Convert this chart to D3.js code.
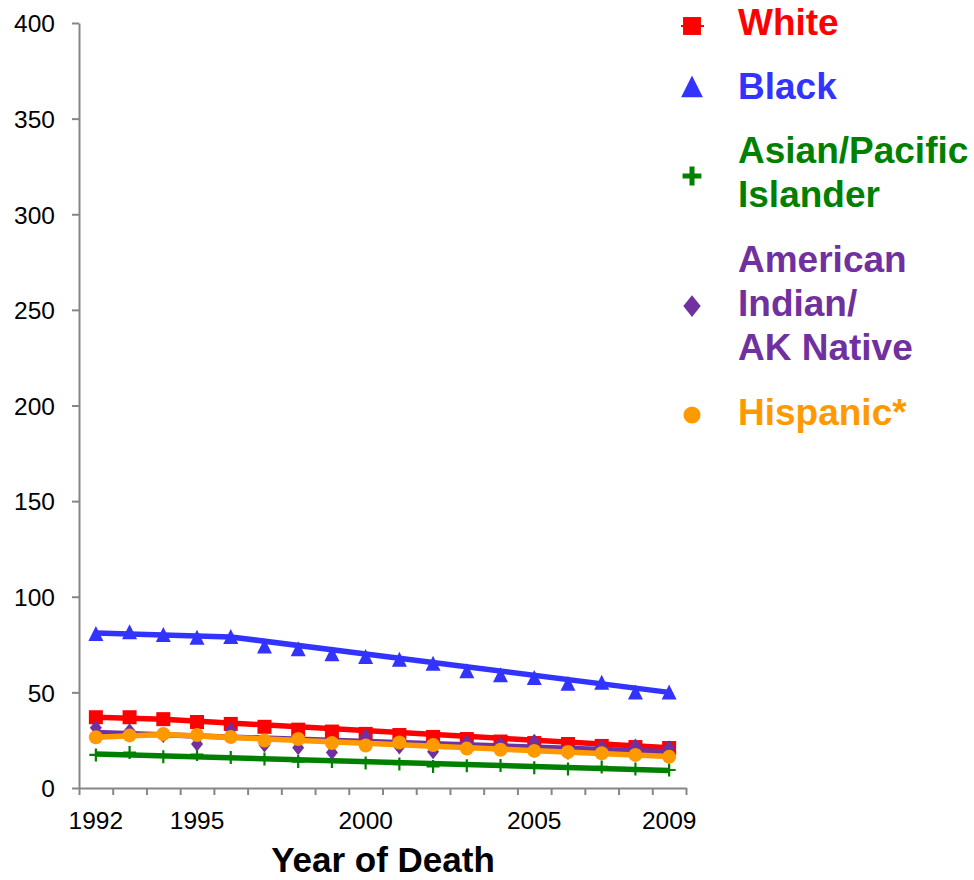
<!DOCTYPE html>
<html>
<head>
<meta charset="utf-8">
<script src="https://cdn.jsdelivr.net/npm/d3@7"></script>
<style>
  body { margin: 0; background: #fff; }
  svg { font-family: "Liberation Sans", Arial, sans-serif; }
  .axis path, .axis line { stroke: #868686; stroke-width: 2; }
  .axis text { fill: #000; font-size: 24.5px; }
  .legend-label { font-weight: bold; font-size: 37px; }
</style>
</head>
<body>
<svg id="chart" width="974" height="880" viewBox="0 0 974 880"></svg>
<script>
// Years on the x axis
const years = d3.range(1992, 2010);
const yearLabels = [1992, 1995, 2000, 2005, 2009];
const yTicks = [0, 50, 100, 150, 200, 250, 300, 350, 400];

const whiteRates = [37, 37, 36, 34.5, 33.5, 32, 30.5, 29.5, 28.3, 27.7, 26.7, 25.6, 24.3, 23.5, 23, 22, 21.4, 20.9];
const blackRates = [80.5, 81.5, 80, 78.5, 79, 74, 72.5, 70, 68.5, 67, 65, 61, 59, 57.5, 54.5, 55, 50, 50];
const asianRates = [17.3, 18.5, 16.3, 17.5, 16, 15.2, 13.8, 13.8, 13.1, 12.5, 11.3, 11.6, 11.8, 10.6, 10, 11, 9.9, 9.4];
const aianRates = [31.5, 30, 27.5, 23, 30.5, 22.5, 21, 18.5, 27, 21.5, 19, 24, 23, 24.5, 18.5, 21.5, 22, 21];
const hispanicRates = [26.5, 27.5, 28.2, 27.7, 26.7, 24.8, 25.6, 23.5, 22.2, 23.8, 22.5, 20.6, 20, 19.4, 18.8, 18.2, 17.3, 16.3];

// Fitted trend lines, as joinpoints [year, rate]
const whiteTrend = [[1992, 37], [1994, 36], [2009, 21]];
const blackTrend = [[1992, 81], [1996, 79], [2009, 50]];
const asianTrend = [[1992, 17.8], [2009, 9.2]];
const aianTrend = [[1992, 29], [2009, 19]];
const hispanicTrend = [[1992, 26.5], [1994, 28], [2009, 16.5]];

const series = [
    {name: ["White"], color: "#ff0000", symbol: "square", rates: whiteRates, trend: whiteTrend},
    {name: ["Black"], color: "#3333ff", symbol: "triangle", rates: blackRates, trend: blackTrend},
    {name: ["Asian/Pacific", "Islander"], color: "#008000", symbol: "plus", rates: asianRates, trend: asianTrend},
    {name: ["American", "Indian/", "AK Native"], color: "#7030a0", symbol: "diamond", rates: aianRates, trend: aianTrend},
    {name: ["Hispanic*"], color: "#ff9900", symbol: "circle", rates: hispanicRates, trend: hispanicTrend}
];

const svg = d3.select("#chart");
const plotLeft = 79, plotRight = 686, plotTop = 23, plotBottom = 788;

const x = d3.scaleLinear().domain([1991.5, 2009.5]).range([plotLeft, plotRight]);
const y = d3.scaleLinear().domain([0, 400]).range([plotBottom, plotTop]);

// Y axis
svg.append("g")
    .attr("class", "axis")
    .attr("transform", "translate(" + plotLeft + ",0)")
    .call(d3.axisLeft(y).tickValues(yTicks).tickSize(7).tickPadding(17).tickSizeOuter(0))
    .selectAll("text").attr("dy", "0.36em");

// X axis: ticks between years, labels only for some years
const xAxis = svg.append("g")
    .attr("class", "axis")
    .attr("transform", "translate(0," + plotBottom + ")")
    .call(d3.axisBottom(x).tickValues(d3.range(1991.5, 2010, 1)).tickSize(7).tickSizeOuter(0).tickFormat(""));

xAxis.selectAll(".year-label")
    .data(yearLabels)
    .enter()
    .append("text")
    .attr("class", "year-label")
    .attr("x", d => x(d))
    .attr("y", 41)
    .attr("text-anchor", "middle")
    .text(d => d);

// Axis title
svg.append("text")
    .attr("x", 383)
    .attr("y", 872)
    .attr("text-anchor", "middle")
    .style("font-weight", "bold")
    .style("font-size", "35px")
    .text("Year of Death");

// k: scale factor (plot markers 1, legend markers larger)
function drawMarker(g, symbol, color, k) {
    switch (symbol) {
        case "square":
            g.append("rect").attr("x", -7 * k).attr("y", -7 * k).attr("width", 14 * k).attr("height", 14 * k).attr("fill", color);
            break;
        case "triangle":
            g.append("path").attr("d", "M0," + (-8 * k) + "L" + (7.5 * k) + "," + (7 * k) + "L" + (-7.5 * k) + "," + (7 * k) + "Z").attr("fill", color);
            break;
        case "plus":
            g.append("path").attr("d", "M" + (-6.5 * k) + ",0H" + (6.5 * k) + "M0," + (-6.5 * k) + "V" + (6.5 * k))
                .attr("stroke", color).attr("stroke-width", k > 1 ? 5 : 2.2);
            break;
        case "diamond":
            g.append("path").attr("d", "M0," + (-7.5 * k) + "L" + (6 * k) + ",0L0," + (7.5 * k) + "L" + (-6 * k) + ",0Z").attr("fill", color);
            break;
        case "circle":
            g.append("circle").attr("r", 7 * k).attr("fill", color);
            break;
    }
}

const line = d3.line()
    .x(d => x(d[0]))
    .y(d => y(d[1]));

// Series: trend line then observed markers
series.forEach(s => {
    const g = svg.append("g");
    g.append("path")
        .attr("d", line(s.trend))
        .attr("fill", "none")
        .attr("stroke", s.color)
        .attr("stroke-width", 5.5)
        .attr("stroke-linejoin", "round");
    g.selectAll(".pt")
        .data(s.rates)
        .enter()
        .append("g")
        .attr("class", "pt")
        .attr("transform", (d, i) => "translate(" + x(years[i]) + "," + y(d) + ")")
        .each(function() { drawMarker(d3.select(this), s.symbol, s.color, 1); });
});

// Legend
const legendMarkY = [26, 87, 176, 306, 415];
const legendMarkScale = [1.28, 1.45, 1.45, 1.45, 1.22];
const legendFirstBaseline = [35, 99, 163, 272, 425];
const legendLineStep = 44;

series.forEach((s, i) => {
    const mg = svg.append("g").attr("transform", "translate(692," + legendMarkY[i] + ")");
    if (s.symbol === "square") {
        mg.append("line").attr("x1", -11).attr("x2", 12).attr("stroke", s.color).attr("stroke-width", 2);
    }
    drawMarker(mg, s.symbol, s.color, legendMarkScale[i]);
    const t = svg.append("text")
        .attr("class", "legend-label")
        .attr("fill", s.color);
    s.name.forEach((part, j) => {
        t.append("tspan")
            .attr("x", 738)
            .attr("y", legendFirstBaseline[i] + j * legendLineStep)
            .text(part);
    });
});
</script>
</body>
</html>
